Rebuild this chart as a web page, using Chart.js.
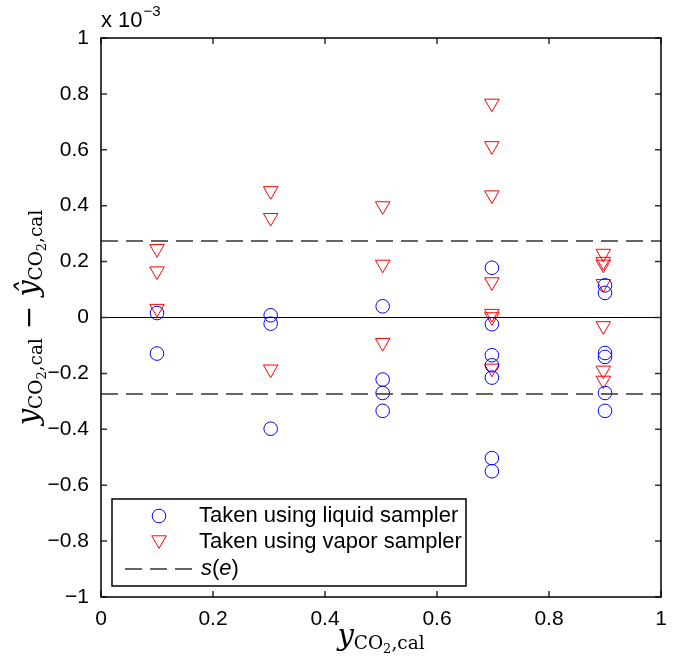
<!DOCTYPE html>
<html><head><meta charset="utf-8">
<script src="https://cdn.jsdelivr.net/npm/chart.js@4/dist/chart.umd.min.js"></script>
<style>html,body{margin:0;padding:0;background:#fff;overflow:hidden;}</style>
</head><body>
<canvas id="c" width="684" height="663"></canvas>
<script>
// ---- data (y values in units of 1e-3) ----
const xTicks = [0, 0.2, 0.4, 0.6, 0.8, 1];
const yTicks = [-1, -0.8, -0.6, -0.4, -0.2, 0, 0.2, 0.4, 0.6, 0.8, 1];
const liquidX = [0.1, 0.1, 0.303, 0.303, 0.303, 0.503, 0.503, 0.503, 0.503,
  0.698, 0.698, 0.698, 0.698, 0.698, 0.698, 0.698,
  0.9, 0.9, 0.9, 0.9, 0.9, 0.9];
const liquidY = [0.016, -0.129, 0.008, -0.022, -0.398, 0.040, -0.222, -0.270, -0.334,
  0.178, -0.024, -0.135, -0.171, -0.215, -0.503, -0.550,
  0.115, 0.088, -0.127, -0.141, -0.270, -0.334];
const vaporX = [0.1, 0.1, 0.1, 0.303, 0.303, 0.303, 0.503, 0.503, 0.503,
  0.698, 0.698, 0.698, 0.698, 0.698, 0.698, 0.698,
  0.897, 0.897, 0.897, 0.897, 0.897, 0.897, 0.897];
const vaporY = [0.246, 0.166, 0.032, 0.453, 0.357, -0.185, 0.399, 0.190, -0.090,
  0.766, 0.614, 0.438, 0.127, 0.014, 0.002, -0.182,
  0.229, 0.200, 0.190, 0.121, -0.030, -0.189, -0.225];
const sE = 0.274;
const seriesLabels = ['Taken using liquid sampler', 'Taken using vapor sampler', 's(e)'];

const fmt = v => {
  const r = Math.round(v * 10) / 10;
  if (r === 0) return '0';
  return (r < 0 ? '\u2212' : '') + String(Math.abs(r));
};
const pts = (xs, ys) => xs.map((x, i) => ({x: x, y: ys[i]}));

const SANS = '"Liberation Sans", Arial, sans-serif';
const SERIF = '"DejaVu Serif", serif';

function drawRuns(ctx, runs, cx, baseY) {
  let w = 0;
  runs.forEach(r => { ctx.font = r.font; w += ctx.measureText(r.t).width; });
  let x = cx - w / 2;
  ctx.textAlign = 'left';
  ctx.textBaseline = 'alphabetic';
  runs.forEach(r => { ctx.font = r.font; ctx.fillText(r.t, x, baseY + (r.dy || 0)); x += ctx.measureText(r.t).width; });
}
const yRuns = (hat) => [
  {t: hat ? '\u0177' : 'y', font: 'italic 29px ' + SERIF, dy: 0},
  {t: 'CO', font: '18.5px ' + SERIF, dy: 4},
  {t: '2', font: '13px ' + SERIF, dy: 8},
  {t: ',cal', font: '18.5px ' + SERIF, dy: 4}
];

const decor = {
  id: 'decor',
  afterDatasetsDraw(chart) {
    const ctx = chart.ctx, a = chart.chartArea;
    const xs = chart.scales.x, ys = chart.scales.y;
    ctx.save();
    // inward ticks on all four sides
    ctx.strokeStyle = '#333'; ctx.lineWidth = 1.5;
    ctx.beginPath();
    xTicks.forEach(v => {
      const px = xs.getPixelForValue(v);
      ctx.moveTo(px, a.bottom); ctx.lineTo(px, a.bottom - 6);
      ctx.moveTo(px, a.top); ctx.lineTo(px, a.top + 6);
    });
    yTicks.forEach(v => {
      const py = ys.getPixelForValue(v);
      ctx.moveTo(a.left, py); ctx.lineTo(a.left + 6, py);
      ctx.moveTo(a.right, py); ctx.lineTo(a.right - 6, py);
    });
    ctx.stroke();
    // axes box
    ctx.strokeStyle = '#000'; ctx.lineWidth = 1.5;
    ctx.strokeRect(a.left, a.top, a.right - a.left, a.bottom - a.top);

    // legend
    const lx = 112, ly = 499, lw = 354, lh = 87;
    ctx.fillStyle = '#fff';
    ctx.fillRect(lx, ly, lw, lh);
    ctx.strokeStyle = '#000'; ctx.lineWidth = 1.5;
    ctx.strokeRect(lx, ly, lw, lh);
    const ds = chart.data.datasets;
    const mx = 159, tx = 199, rows = [516, 542, 569];
    ctx.lineWidth = 1;
    ctx.strokeStyle = ds[0].borderColor;
    Chart.helpers.drawPoint(ctx, {pointStyle: 'circle', radius: ds[0].pointRadius, borderWidth: 1, rotation: 0}, mx, rows[0]);
    ctx.strokeStyle = ds[1].borderColor;
    Chart.helpers.drawPoint(ctx, {pointStyle: 'triangle', radius: ds[1].pointRadius, borderWidth: 1, rotation: 180}, mx, rows[1] - 2);
    ctx.strokeStyle = ds[2].borderColor; ctx.lineWidth = ds[2].borderWidth;
    ctx.setLineDash(ds[2].borderDash);
    ctx.beginPath(); ctx.moveTo(125, rows[2]); ctx.lineTo(193, rows[2]); ctx.stroke();
    ctx.setLineDash([]);
    ctx.fillStyle = '#000';
    ctx.font = '22px ' + SANS; ctx.textAlign = 'left'; ctx.textBaseline = 'middle';
    ctx.fillText(seriesLabels[0], tx, rows[0]);
    ctx.fillText(seriesLabels[1], tx, rows[1]);
    // s(e) with italic s and e
    let x = tx + 2;
    [['s', 'italic '], ['(', ''], ['e', 'italic '], [')', '']].forEach(p => {
      ctx.font = p[1] + '22px ' + SANS;
      ctx.fillText(p[0], x, rows[2]);
      x += ctx.measureText(p[0]).width;
    });

    // exponent label
    ctx.textBaseline = 'alphabetic'; ctx.textAlign = 'left';
    ctx.font = '22px ' + SANS;
    ctx.fillText('x 10', 101, 27);
    const w10 = ctx.measureText('x 10').width;
    ctx.font = '15px ' + SANS;
    ctx.fillText('\u22123', 101 + w10 + 1, 16);

    // x axis title
    const cx = (a.left + a.right) / 2;
    drawRuns(ctx, yRuns(false), cx, 645);
    // y axis title
    ctx.translate(38, (a.top + a.bottom) / 2);
    ctx.rotate(-Math.PI / 2);
    drawRuns(ctx, yRuns(false).concat([{t: ' \u2212 ', font: '28px ' + SERIF, dy: 0}]).concat(yRuns(true)), 0, 0);
    ctx.restore();
  }
};

new Chart(document.getElementById('c'), {
  type: 'scatter',
  data: {
    datasets: [
      {label: seriesLabels[0], data: pts(liquidX, liquidY), pointStyle: 'circle', pointRadius: 6.8,
       borderColor: '#0000ff', backgroundColor: 'rgba(0,0,0,0)', borderWidth: 1, order: 2},
      {label: seriesLabels[1], data: pts(vaporX, vaporY), pointStyle: 'triangle', pointRotation: 180, pointRadius: 8.4,
       borderColor: '#ff0000', backgroundColor: 'rgba(0,0,0,0)', borderWidth: 1, order: 2},
      {label: seriesLabels[2], type: 'line', data: [{x: 0, y: sE}, {x: 1, y: sE}], borderColor: '#333',
       borderWidth: 1.5, borderDash: [17, 8], pointRadius: 0, fill: false, order: 1},
      {label: 's(e) lower', type: 'line', data: [{x: 0, y: -sE}, {x: 1, y: -sE}], borderColor: '#333',
       borderWidth: 1.5, borderDash: [17, 8], pointRadius: 0, fill: false, order: 1},
      {label: 'zero', type: 'line', data: [{x: 0, y: 0}, {x: 1, y: 0}], borderColor: '#000',
       borderWidth: 1, pointRadius: 0, fill: false, order: 1}
    ]
  },
  options: {
    responsive: false, animation: false, devicePixelRatio: 1,
    layout: {padding: {left: 0, top: 38, right: 23, bottom: 0}},
    plugins: {legend: {display: false}, tooltip: {enabled: false}},
    scales: {
      x: {
        type: 'linear', min: 0, max: 1,
        afterBuildTicks: s => { s.ticks = xTicks.map(v => ({value: v})); },
        afterFit: s => { s.height = 66; },
        ticks: {callback: v => fmt(v), font: {family: SANS, size: 21}, color: '#000', padding: 10, maxRotation: 0, autoSkip: false},
        grid: {display: false, drawTicks: false}, border: {display: false}
      },
      y: {
        type: 'linear', min: -1, max: 1,
        afterBuildTicks: s => { s.ticks = yTicks.map(v => ({value: v})); },
        afterFit: s => { s.width = 101; },
        ticks: {callback: v => fmt(v), font: {family: SANS, size: 21}, color: '#000', padding: 12, autoSkip: false},
        grid: {display: false, drawTicks: false}, border: {display: false}
      }
    }
  },
  plugins: [decor]
});
</script>
</body></html>
